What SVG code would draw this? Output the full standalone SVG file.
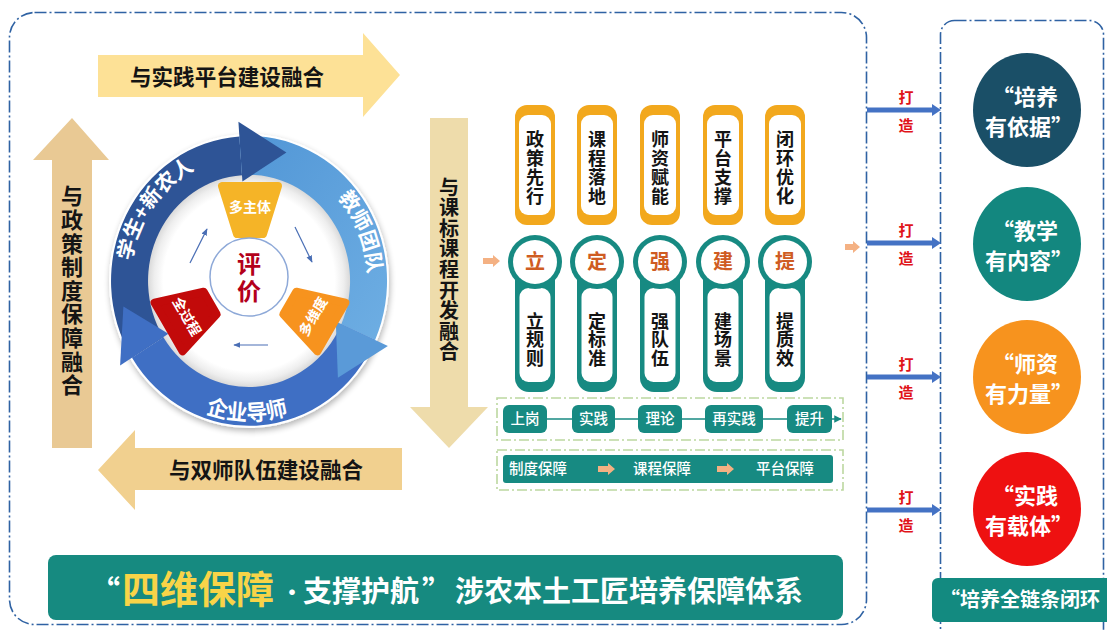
<svg xmlns="http://www.w3.org/2000/svg" width="1107" height="630" viewBox="0 0 1107 630">
<style>
.cjk{font-family:"Noto Sans CJK SC","Noto Sans",sans-serif;font-weight:700}
.mid{text-anchor:middle}
.vt{writing-mode:vertical-rl;text-orientation:upright;text-anchor:start}
.blk{fill:#141414}
.wt{fill:#fff}
.frame{fill:none;stroke:#2f62a3;stroke-width:1.6;stroke-dasharray:12 3 2 3}
.gframe{fill:none;stroke:#bcd8a0;stroke-width:1.6;stroke-dasharray:10 3 2 3}
.orcap{fill:#f2a81d}
.teal{fill:#178a82}
.inwhite{fill:#fff}
.ch{fill:#cf5c22;font-size:20px}
.v18{font-size:18px}
.pill{fill:#178a82}
.pt{font-size:14.5px;font-weight:500;fill:#fff}
.oarrow{fill:#f4b183}
.make{fill:#e0141a;font-size:15px;letter-spacing:13px}
.barrow{stroke:#4472c4;stroke-width:5}
.outc{font-size:22px;fill:#fff}
</style>
<defs>
<radialGradient id="innerG" cx="50%" cy="50%" r="50%">
<stop offset="0" stop-color="#fff"/>
<stop offset="0.84" stop-color="#fff"/>
<stop offset="0.93" stop-color="#eeeeee"/>
<stop offset="1" stop-color="#d6d6d6"/>
</radialGradient>
<linearGradient id="lightG" x1="0" y1="0" x2="1" y2="1">
<stop offset="0" stop-color="#5196d6"/>
<stop offset="1" stop-color="#6eaee3"/>
</linearGradient>
<filter id="sh" x="-20%" y="-20%" width="140%" height="140%">
<feGaussianBlur in="SourceAlpha" stdDeviation="3"/>
<feOffset dx="1" dy="3"/>
<feComponentTransfer><feFuncA type="linear" slope="0.3"/></feComponentTransfer>
<feMerge><feMergeNode/><feMergeNode in="SourceGraphic"/></feMerge>
</filter>
<marker id="thin" viewBox="0 0 10 10" refX="9" refY="5" markerWidth="6" markerHeight="6" orient="auto">
<path d="M0,1 L10,5 L0,9 Z" fill="#4a6fb5"/>
</marker>
<marker id="tealHead" viewBox="0 0 10 10" refX="9" refY="5" markerWidth="5" markerHeight="5" orient="auto">
<path d="M0,0 L10,5 L0,10 Z" fill="#178a82"/>
</marker>
<path id="tp1" d="M-117.5,18.6 A119,119 0 0 1 -18.6,-117.5"/>
<path id="tp2" d="M45.5,-109.9 A119,119 0 0 1 109.9,45.5"/>
<path id="tp3" d="M-95.7,92.4 A133,133 0 0 0 92.4,95.7"/>
</defs>

<rect width="1107" height="630" fill="#fff"/>

<g id="frames">
<rect class="frame" x="9.5" y="12.5" width="857" height="612" rx="25"/>
<rect class="frame" x="940.5" y="20.5" width="163" height="625" rx="14"/>
</g>

<g id="arrow-top">
<polygon points="98,55 363,55 363,33 400,75 363,117 363,97 98,97" fill="#fde196"/>
<text class="cjk blk mid" x="227" y="84.5" font-size="22" textLength="194" lengthAdjust="spacingAndGlyphs">与实践平台建设融合</text>
</g>

<g id="arrow-left">
<polygon points="52,448 52,160 33,160 72,118 109,160 92,160 92,448" fill="#e9c994"/>
<text class="cjk blk vt" x="72" y="185" font-size="22" letter-spacing="1.6">与政策制度保障融合</text>
</g>

<g id="arrow-mid">
<polygon points="430,118 468,118 468,407 488,407 449,448 410,407 430,407" fill="#eedcab"/>
<text class="cjk blk vt" x="449" y="177" font-size="20" letter-spacing="0.6">与课标课程开发融合</text>
</g>

<g id="arrow-bottom">
<polygon points="402,448 135,448 135,430 98,470 135,510 135,490 402,490" fill="#f1d08f"/>
<text class="cjk blk mid" x="266" y="477.5" font-size="22" textLength="194" lengthAdjust="spacingAndGlyphs">与双师队伍建设融合</text>
</g>

<g id="ring" transform="translate(249,281) scale(1,1.05)">
<circle r="140" fill="#fff" filter="url(#sh)"/>
<circle r="102" fill="url(#innerG)"/>
<path d="M-117,73.1 A138,138 0 0 1 -9.6,-137.7 L-7,-100.8 A101,101 0 0 0 -85.6,53.5 Z" fill="#2e5496"/>
<path d="M-9.6,-137.7 A138,138 0 0 1 126.1,56.1 L92.3,41.1 A101,101 0 0 0 -7,-100.8 Z" fill="url(#lightG)"/>
<path d="M126.1,56.1 A138,138 0 0 1 -117,73.1 L-85.6,53.5 A101,101 0 0 0 92.3,41.1 Z" fill="#3f6fc4"/>
<path d="M-10.6,-151.6 L37.4,-122.4 L-6.6,-94.8 Z" fill="#2e5496"/>
<path d="M138.9,61.8 L88.9,92.1 L86.8,38.6 Z" fill="#5a9ad8"/>
<path d="M-128.9,80.5 L-125.6,24.4 L-80.6,50.3 Z" fill="#3f6fc4"/>
<text class="cjk wt" font-size="20"><textPath href="#tp1" startOffset="50%" text-anchor="middle">学生+新农人</textPath></text>
<text class="cjk wt" font-size="20"><textPath href="#tp2" startOffset="50%" text-anchor="middle">教师团队</textPath></text>
<text class="cjk wt" font-size="21"><textPath href="#tp3" startOffset="50%" text-anchor="middle">企业导师</textPath></text>
</g>

<g id="tab-subject">
<polygon points="222,186 278,186 263,234 237,234" fill="#f5b427" stroke="#f5b427" stroke-width="8" stroke-linejoin="round"/>
<text class="cjk wt mid" x="250" y="212" font-size="14">多主体</text>
</g>
<g id="tab-dimension" transform="rotate(120 250 280)">
<polygon points="222,186 278,186 263,234 237,234" fill="#f7931e" stroke="#f7931e" stroke-width="8" stroke-linejoin="round"/>
<text class="cjk wt mid" x="250" y="212" font-size="14" transform="rotate(180 250 207)">多维度</text>
</g>
<g id="tab-process" transform="rotate(-120 250 280)">
<polygon points="222,186 278,186 263,234 237,234" fill="#c20a0a" stroke="#c20a0a" stroke-width="8" stroke-linejoin="round"/>
<text class="cjk wt mid" x="250" y="212" font-size="14" transform="rotate(180 250 207)">全过程</text>
</g>

<g id="eval-center">
<circle cx="249" cy="277" r="39" fill="#fff" stroke="#8ea9d8" stroke-width="1.5"/>
<text class="cjk vt" x="249" y="252" fill="#b3001b" font-size="24" letter-spacing="3">评价</text>
</g>

<g id="col1">
<rect class="orcap" x="515" y="105" width="40" height="120" rx="12"/>
<rect class="inwhite" x="519" y="115" width="32" height="100" rx="9"/>
<text class="cjk blk vt v18" x="535" y="130" letter-spacing="1">政策先行</text>
<rect class="teal" x="515" y="262" width="40" height="130" rx="14"/>
<rect class="inwhite" x="519.5" y="288" width="31" height="94" rx="9"/>
<circle class="teal" cx="535" cy="262" r="27"/>
<circle class="inwhite" cx="535" cy="262" r="22"/>
<text class="cjk mid ch" x="535" y="269">立</text>
<text class="cjk blk vt v18" x="535" y="312" letter-spacing="0.5">立规则</text>
</g>
<g id="col2">
<rect class="orcap" x="577" y="105" width="40" height="120" rx="12"/>
<rect class="inwhite" x="581" y="115" width="32" height="100" rx="9"/>
<text class="cjk blk vt v18" x="597" y="130" letter-spacing="1">课程落地</text>
<rect class="teal" x="577" y="262" width="40" height="130" rx="14"/>
<rect class="inwhite" x="581.5" y="288" width="31" height="94" rx="9"/>
<circle class="teal" cx="597" cy="262" r="27"/>
<circle class="inwhite" cx="597" cy="262" r="22"/>
<text class="cjk mid ch" x="597" y="269">定</text>
<text class="cjk blk vt v18" x="597" y="312" letter-spacing="0.5">定标准</text>
</g>
<g id="col3">
<rect class="orcap" x="640" y="105" width="40" height="120" rx="12"/>
<rect class="inwhite" x="644" y="115" width="32" height="100" rx="9"/>
<text class="cjk blk vt v18" x="660" y="130" letter-spacing="1">师资赋能</text>
<rect class="teal" x="640" y="262" width="40" height="130" rx="14"/>
<rect class="inwhite" x="644.5" y="288" width="31" height="94" rx="9"/>
<circle class="teal" cx="660" cy="262" r="27"/>
<circle class="inwhite" cx="660" cy="262" r="22"/>
<text class="cjk mid ch" x="660" y="269">强</text>
<text class="cjk blk vt v18" x="660" y="312" letter-spacing="0.5">强队伍</text>
</g>
<g id="col4">
<rect class="orcap" x="703" y="105" width="40" height="120" rx="12"/>
<rect class="inwhite" x="707" y="115" width="32" height="100" rx="9"/>
<text class="cjk blk vt v18" x="723" y="130" letter-spacing="1">平台支撑</text>
<rect class="teal" x="703" y="262" width="40" height="130" rx="14"/>
<rect class="inwhite" x="707.5" y="288" width="31" height="94" rx="9"/>
<circle class="teal" cx="723" cy="262" r="27"/>
<circle class="inwhite" cx="723" cy="262" r="22"/>
<text class="cjk mid ch" x="723" y="269">建</text>
<text class="cjk blk vt v18" x="723" y="312" letter-spacing="0.5">建场景</text>
</g>
<g id="col5">
<rect class="orcap" x="765" y="105" width="40" height="120" rx="12"/>
<rect class="inwhite" x="769" y="115" width="32" height="100" rx="9"/>
<text class="cjk blk vt v18" x="785" y="130" letter-spacing="1">闭环优化</text>
<rect class="teal" x="765" y="262" width="40" height="130" rx="14"/>
<rect class="inwhite" x="769.5" y="288" width="31" height="94" rx="9"/>
<circle class="teal" cx="785" cy="262" r="27"/>
<circle class="inwhite" cx="785" cy="262" r="22"/>
<text class="cjk mid ch" x="785" y="269">提</text>
<text class="cjk blk vt v18" x="785" y="312" letter-spacing="0.5">提质效</text>
</g>

<g id="connectors">
<line x1="547" y1="419" x2="841" y2="419" stroke="#178a82" stroke-width="1.5" marker-end="url(#tealHead)"/>
<line x1="190" y1="263" x2="207" y2="229" stroke="#4a6fb5" stroke-width="1.2" marker-end="url(#thin)"/>
<line x1="295" y1="227" x2="312" y2="262" stroke="#4a6fb5" stroke-width="1.2" marker-end="url(#thin)"/>
<line x1="268" y1="345" x2="234" y2="345" stroke="#4a6fb5" stroke-width="1.2" marker-end="url(#thin)"/>
<polygon class="oarrow" points="483,258 493,258 493,255 500,261 493,267 493,264 483,264"/>
<polygon class="oarrow" points="845,244 853,244 853,241 860,247 853,253 853,250 845,250"/>
<line class="barrow" x1="867" y1="110" x2="933" y2="110"/><polygon points="932,104 941,110 932,116" fill="#4472c4"/>
<line class="barrow" x1="867" y1="243" x2="933" y2="243"/><polygon points="932,237 941,243 932,249" fill="#4472c4"/>
<line class="barrow" x1="867" y1="377" x2="933" y2="377"/><polygon points="932,371 941,377 932,383" fill="#4472c4"/>
<line class="barrow" x1="867" y1="510" x2="933" y2="510"/><polygon points="932,504 941,510 932,516" fill="#4472c4"/>
<text class="cjk make vt" x="906" y="89.5">打造</text>
<text class="cjk make vt" x="906" y="222.5">打造</text>
<text class="cjk make vt" x="906" y="356.5">打造</text>
<text class="cjk make vt" x="906" y="489.5">打造</text>
</g>

<g id="process-row">
<rect class="gframe" x="497" y="398" width="346" height="42"/>
<rect class="pill" x="503" y="405" width="44" height="28" rx="6"/>
<rect class="pill" x="572" y="405" width="43" height="28" rx="6"/>
<rect class="pill" x="638" y="405" width="44" height="28" rx="6"/>
<rect class="pill" x="705" y="405" width="58" height="28" rx="6"/>
<rect class="pill" x="787" y="405" width="45" height="28" rx="6"/>
<text class="cjk pt mid" x="525" y="424">上岗</text>
<text class="cjk pt mid" x="593.5" y="424">实践</text>
<text class="cjk pt mid" x="660" y="424">理论</text>
<text class="cjk pt mid" x="734" y="424">再实践</text>
<text class="cjk pt mid" x="809.5" y="424">提升</text>
</g>

<g id="guarantee-row">
<rect class="gframe" x="497" y="450" width="346" height="40"/>
<rect class="pill" x="503" y="455" width="330" height="28" rx="3"/>
<polygon class="oarrow" points="598,466 608,466 608,463 615,469 608,475 608,472 598,472"/>
<polygon class="oarrow" points="717,466 727,466 727,463 734,469 727,475 727,472 717,472"/>
<text class="cjk pt mid" x="538" y="474">制度保障</text>
<text class="cjk pt mid" x="662" y="474">课程保障</text>
<text class="cjk pt mid" x="785" y="474">平台保障</text>
</g>

<g id="banner">
<rect x="48" y="555" width="795" height="65" rx="8" fill="#168a80"/>
<text class="cjk wt" y="602"><tspan x="90" font-size="30">“</tspan><tspan x="122" y="603" font-size="38" fill="#f8d448">四维保障</tspan><tspan x="281" y="600" font-size="22">·</tspan><tspan x="303" y="602" font-size="29">支撑护航</tspan><tspan x="422" font-size="30">”</tspan><tspan x="455" font-size="29">涉农本土工匠培养保障体系</tspan></text>
</g>

<g id="outcome1">
<ellipse cx="1027" cy="110" rx="54" ry="57" fill="#1a4f67"/>
<text class="cjk outc mid"><tspan x="1025" y="105">“培养</tspan><tspan x="1029" y="135">有依据”</tspan></text>
</g>
<g id="outcome2">
<ellipse cx="1027" cy="244" rx="54" ry="57" fill="#13877f"/>
<text class="cjk outc mid"><tspan x="1025" y="239">“教学</tspan><tspan x="1029" y="269">有内容”</tspan></text>
</g>
<g id="outcome3">
<ellipse cx="1027" cy="377" rx="54" ry="57" fill="#f7931e"/>
<text class="cjk outc mid"><tspan x="1025" y="372">“师资</tspan><tspan x="1029" y="402">有力量”</tspan></text>
</g>
<g id="outcome4">
<ellipse cx="1027" cy="509" rx="54" ry="57" fill="#ee1111"/>
<text class="cjk outc mid"><tspan x="1025" y="504">“实践</tspan><tspan x="1029" y="534">有载体”</tspan></text>
</g>

<g id="closed-loop">
<rect x="932" y="578" width="185" height="44" rx="6" fill="#138a80"/>
<text class="cjk wt" x="940" y="607" font-size="20" textLength="160" lengthAdjust="spacingAndGlyphs">“培养全链条闭环</text>
</g>
</svg>
